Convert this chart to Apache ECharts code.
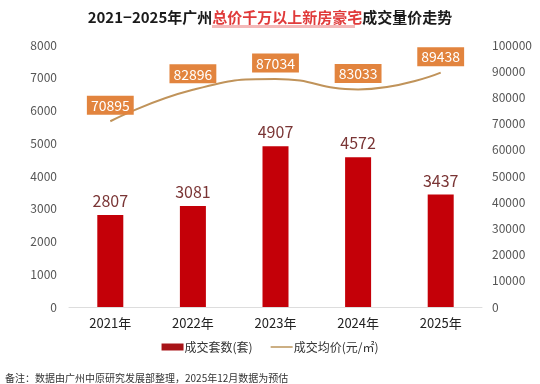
<!DOCTYPE html>
<html><head><meta charset="utf-8">
<script src="https://cdn.jsdelivr.net/npm/echarts@6/dist/echarts.min.js"></script>
<style>html,body{margin:0;padding:0;background:#fff}#c{width:540px;height:384px}</style>
</head><body><div id="c"></div>
<script>
var years = ['2021年','2022年','2023年','2024年','2025年'];
var deals = [2807, 3081, 4907, 4572, 3437];
var prices = [70895, 82896, 87034, 83033, 89438];
var chart = echarts.init(document.getElementById('c'));
var font = '"Noto Sans CJK SC","Noto Sans",sans-serif';
chart.setOption({
  backgroundColor:'#fff',
  textStyle:{fontFamily:font},
  title:{
    left:'center', top:5,
    text:'{a|2021−2025年广州}{b|总价千万以上新房豪宅}{a|成交量价走势}',
    textStyle:{rich:{
      a:{fontSize:15,fontWeight:'bold',color:'#1a1a1a',fontFamily:font},
      b:{fontSize:15,fontWeight:'bold',color:'#e03a3a',fontFamily:font}
    }}
  },
  graphic:[{type:'rect',shape:{x:212,y:25,width:143,height:3},style:{fill:'#f4b8b8'},z:-1}],
  grid:{left:69,right:58,top:45,bottom:77},
  legend:{
    bottom:26, left:'center', itemGap:18, itemWidth:22, itemHeight:7,
    textStyle:{fontSize:12,color:'#333',fontFamily:font,padding:[0,0,0,-4]},
    data:[{name:'成交套数(套)',icon:'rect',itemStyle:{color:'#a81418'}},
          {name:'成交均价(元/㎡)',icon:'path://M0,4L24,4L24,6L0,6Z',itemStyle:{color:'#c8a878',opacity:1}}]
  },
  xAxis:{type:'category',data:years,
    axisLine:{lineStyle:{color:'#ddd'}},axisTick:{show:false},
    axisLabel:{color:'#222',fontSize:13,margin:10}},
  yAxis:[
    {type:'value',min:0,max:8000,interval:1000,splitLine:{show:false},
     axisLabel:{color:'#555',fontSize:12,margin:12,formatter:function(v){return String(v);}}},
    {type:'value',min:0,max:100000,interval:10000,splitLine:{show:false},
     axisLabel:{color:'#555',fontSize:12,margin:10,formatter:function(v){return String(v);}}}
  ],
  series:[
    {name:'成交套数(套)',type:'bar',data:deals,barWidth:26,
     itemStyle:{color:'#c40008'},
     label:{show:true,position:'top',distance:6,fontSize:16,color:'#7a3535'}},
    {name:'成交均价(元/㎡)',type:'line',yAxisIndex:1,data:prices,smooth:0.5,
     symbol:'circle',symbolSize:1,showSymbol:true,
     lineStyle:{color:'#c0935a',width:2},itemStyle:{color:'rgba(0,0,0,0)',borderWidth:0},
     label:{show:true,position:'top',distance:6,fontSize:14,color:'#fff',
       backgroundColor:'#e2843e',padding:[3,4,2,4]},
     labelLayout:{hideOverlap:false}}
  ]
});
</script>
<div style="position:absolute;left:5px;top:370px;font:10px 'Noto Sans CJK SC',sans-serif;color:#333">备注：数据由广州中原研究发展部整理，2025年12月数据为预估</div>
</body></html>
